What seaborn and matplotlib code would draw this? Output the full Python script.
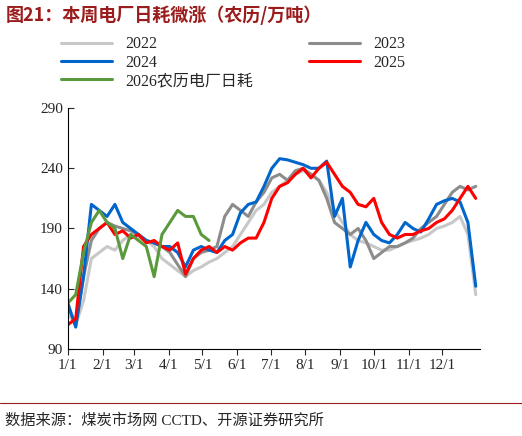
import numpy as np
import pandas as pd
import matplotlib
matplotlib.use("Agg")
import matplotlib.pyplot as plt
import seaborn as sns

# weekly readings (day 0, 7, 14, ...) of power plant daily coal burn, 10k tonnes
y2022 = [120, 110, 130, 165, 170, 175, 172, 180, 185, 182, 180, 175, 165, 160, 155, 150, 155, 158,
         162, 165, 170, 175, 185, 195, 205, 210, 220, 225, 230, 235, 238, 235, 230, 220, 205, 195,
         185, 180, 178, 175, 172, 172, 175, 178, 180, 182, 185, 190, 192, 195, 200, 185, 135]
y2023 = [125, 110, 150, 180, 190, 195, 192, 190, 188, 185, 180, 178, 175, 170, 160, 150, 165, 170,
         172, 175, 200, 210, 205, 200, 212, 220, 232, 235, 230, 238, 240, 235, 230, 215, 195, 190,
         185, 190, 180, 165, 170, 175, 175, 178, 182, 190, 195, 200, 210, 220, 225, 222, 225]
y2024 = [128, 108, 150, 210, 205, 200, 210, 195, 190, 185, 180, 178, 175, 175, 170, 158, 172, 175,
         172, 170, 180, 185, 203, 210, 212, 225, 240, 248, 247, 245, 243, 240, 240, 246, 200, 215,
         158, 180, 195, 185, 180, 178, 185, 195, 190, 187, 198, 210, 213, 215, 212, 195, 142]
y2025 = [110, 115, 175, 185, 190, 195, 185, 188, 182, 185, 178, 180, 175, 172, 178, 152, 165, 172,
         175, 170, 175, 172, 178, 182, 182, 195, 215, 225, 228, 235, 240, 232, 240, 245, 235, 225,
         220, 210, 208, 215, 195, 185, 182, 185, 185, 188, 190, 195, 198, 205, 215, 225, 215]
y2026 = [128, 135, 170, 195, 205, 195, 190, 165, 185, 180, 175, 150, 185, 195, 205, 200, 200, 185, 180]

series = {"2022": y2022, "2023": y2023, "2024": y2024, "2025": y2025, "2026农历电厂日耗": y2026}
colors = {"2022": "#c8c8c8", "2023": "#8c8c8c", "2024": "#0066cc", "2025": "#ff0000",
          "2026农历电厂日耗": "#5b9a3c"}
month_days = [0, 31, 59, 90, 120, 151, 181, 212, 243, 273, 304, 334]
month_labels = [f"{m}/1" for m in range(1, 13)]

rows = []
for name, vals in series.items():
    for i, v in enumerate(vals):
        rows.append({"day": i * 7, "value": v, "series": name})
df = pd.DataFrame(rows)

sns.set_style("white")
plt.rcParams["font.family"] = ["Liberation Serif", "Noto Sans CJK SC", "DejaVu Sans"]

fig = plt.figure(figsize=(5.22, 4.36), dpi=100)
ax = fig.add_axes([0.13, 0.20, 0.79, 0.552])
sns.lineplot(data=df, x="day", y="value", hue="series", palette=colors, linewidth=2.2, ax=ax)

ax.set_xlim(0, 368)
ax.set_ylim(90, 290)
ax.set_yticks([90, 140, 190, 240, 290])
ax.set_xticks(month_days)
ax.set_xticklabels(month_labels)
ax.tick_params(labelsize=11, direction="in", length=4, bottom=True, left=True)
ax.tick_params(axis="x", direction="out")
ax.set_xlabel("")
ax.set_ylabel("")
for s in ["top", "right"]:
    ax.spines[s].set_visible(False)
for s in ["left", "bottom"]:
    ax.spines[s].set_color("black")

h, l = ax.get_legend_handles_labels()
ax.legend_.remove()
order = [0, 2, 4, 1, 3]  # row-wise fill: 2022 2023 / 2024 2025 / 2026
fig.legend([h[i] for i in order], [l[i] for i in order], ncol=2, loc="upper left",
           bbox_to_anchor=(0.09, 0.95), frameon=False, handlelength=3.2, columnspacing=3.5,
           labelspacing=0.15, prop={"family": ["Liberation Serif", "Noto Sans CJK SC"], "size": 11.5})

fig.text(0.01, 0.965, "图21：本周电厂日耗微涨（农历/万吨）", color="#9b1c1c", fontsize=13,
         fontweight="bold", family=["Noto Sans CJK SC"], va="center")
fig.add_artist(plt.Line2D([0.0, 1.0], [0.075, 0.075], color="#9b1c1c", lw=0.8))
fig.text(0.01, 0.035, "数据来源：煤炭市场网 CCTD、开源证券研究所", fontsize=11,
         family=["Liberation Serif", "Noto Sans CJK SC"], va="center")

fig.savefig("out.png", dpi=100)
